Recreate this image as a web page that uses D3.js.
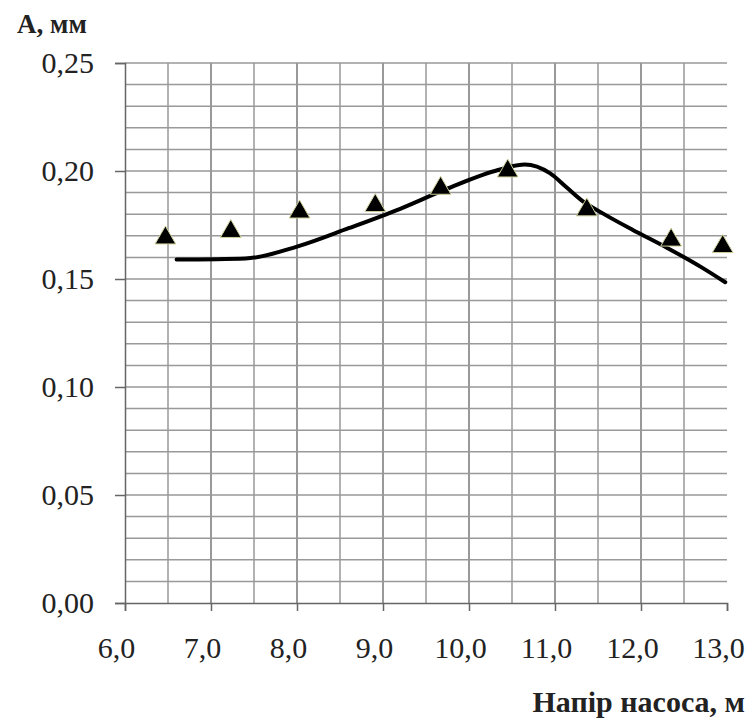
<!DOCTYPE html>
<html>
<head>
<meta charset="utf-8">
<script src="https://cdn.jsdelivr.net/npm/d3@7"></script>
<style>
  body { margin: 0; background: #fff; }
  svg { display: block; }
</style>
</head>
<body>
<div id="chart"></div>
<script>
// Données
const pointsX = [6.47, 7.23, 8.03, 8.91, 9.67, 10.45, 11.37, 12.35, 12.95];
const pointsY = [0.169, 0.172, 0.181, 0.184, 0.192, 0.200, 0.182, 0.168, 0.165];

const curveX = [6.6, 7.4, 8.0, 8.6, 9.2, 9.7, 10.3, 10.65, 10.94, 11.13, 11.33, 11.55, 11.9, 12.3, 12.7, 12.98];
const curveY = [0.159, 0.1595, 0.165, 0.1735, 0.1825, 0.191, 0.200, 0.203, 0.199, 0.1926, 0.1858, 0.1805, 0.1728, 0.1645, 0.1555, 0.1485];

const xTicks = [6, 7, 8, 9, 10, 11, 12, 13];
const yTicks = [0, 0.05, 0.10, 0.15, 0.20, 0.25];

const width = 750;
const height = 725;
const margin = { left: 125, right: 23, top: 63, bottom: 122 };
const serif = '"Liberation Serif"';

const svg = d3.select("#chart")
    .append("svg")
    .attr("width", width)
    .attr("height", height);

const x = d3.scaleLinear().domain([6, 13]).range([margin.left, width - margin.right]);
const y = d3.scaleLinear().domain([0, 0.25]).range([height - margin.bottom, margin.top]);

const fmt = (d, n) => d.toFixed(n).replace(".", ",");

// Grille fine : 0,5 m en x, 0,01 mm en y
const grid = svg.append("g");
grid.selectAll(".vx")
    .data(d3.range(6.5, 13, 0.5))
    .join("line")
    .attr("x1", d => x(d)).attr("x2", d => x(d))
    .attr("y1", y(0.25)).attr("y2", y(0))
    .attr("stroke", d => Number.isInteger(d) ? "#777" : "#999")
    .attr("stroke-width", 1.5);

grid.selectAll(".hy")
    .data(d3.range(1, 26).map(i => i / 100))
    .join("line")
    .attr("x1", x(6)).attr("x2", x(13))
    .attr("y1", d => y(d)).attr("y2", d => y(d))
    .attr("stroke", "#999")
    .attr("stroke-width", 1.5);

// Axes
const xAxis = svg.append("g")
    .attr("transform", `translate(0,${y(0)})`)
    .call(d3.axisBottom(x).tickValues(xTicks).tickSize(8).tickPadding(26).tickFormat(d => fmt(d, 1)));
xAxis.select(".domain").attr("stroke", "#666").attr("stroke-width", 1.5);
xAxis.selectAll(".tick line").attr("stroke", "#666").attr("stroke-width", 1.5);
xAxis.selectAll("text")
    .style("font-family", serif).style("font-size", "30px")
    .attr("fill", "#222")
    .attr("dx", -9);

const yAxis = svg.append("g")
    .attr("transform", `translate(${x(6)},0)`)
    .call(d3.axisLeft(y).tickValues(yTicks).tickSize(10).tickPadding(21).tickFormat(d => fmt(d, 2)));
yAxis.select(".domain").attr("stroke", "#666").attr("stroke-width", 1.5);
yAxis.selectAll(".tick line").attr("stroke", "#666").attr("stroke-width", 1.5);
yAxis.selectAll("text")
    .style("font-family", serif).style("font-size", "30px")
    .attr("fill", "#222");

// Courbe
const line = d3.line()
    .x(d => x(d[0]))
    .y(d => y(d[1]))
    .curve(d3.curveMonotoneX);

svg.append("path")
    .datum(d3.zip(curveX, curveY))
    .attr("d", line)
    .attr("fill", "none")
    .attr("stroke", "#000")
    .attr("stroke-width", 4)
    .attr("stroke-linecap", "round");

// Points expérimentaux
svg.selectAll(".pt")
    .data(d3.zip(pointsX, pointsY))
    .join("path")
    .attr("transform", d => `translate(${x(d[0])},${y(d[1])})`)
    .attr("d", d3.symbol(d3.symbolTriangle).size(185))
    .attr("fill", "#000")
    .attr("stroke", "#cfcf9a")
    .attr("stroke-width", 1);

// Titres des axes
svg.append("text")
    .attr("x", 17).attr("y", 33)
    .style("font-family", serif).style("font-size", "27px").style("font-weight", "bold")
    .attr("fill", "#222")
    .text("А, мм");

svg.append("text")
    .attr("x", 745).attr("y", 712)
    .attr("text-anchor", "end")
    .style("font-family", serif).style("font-size", "30px").style("font-weight", "bold")
    .attr("fill", "#222")
    .text("Напір насоса, м");
</script>
</body>
</html>
